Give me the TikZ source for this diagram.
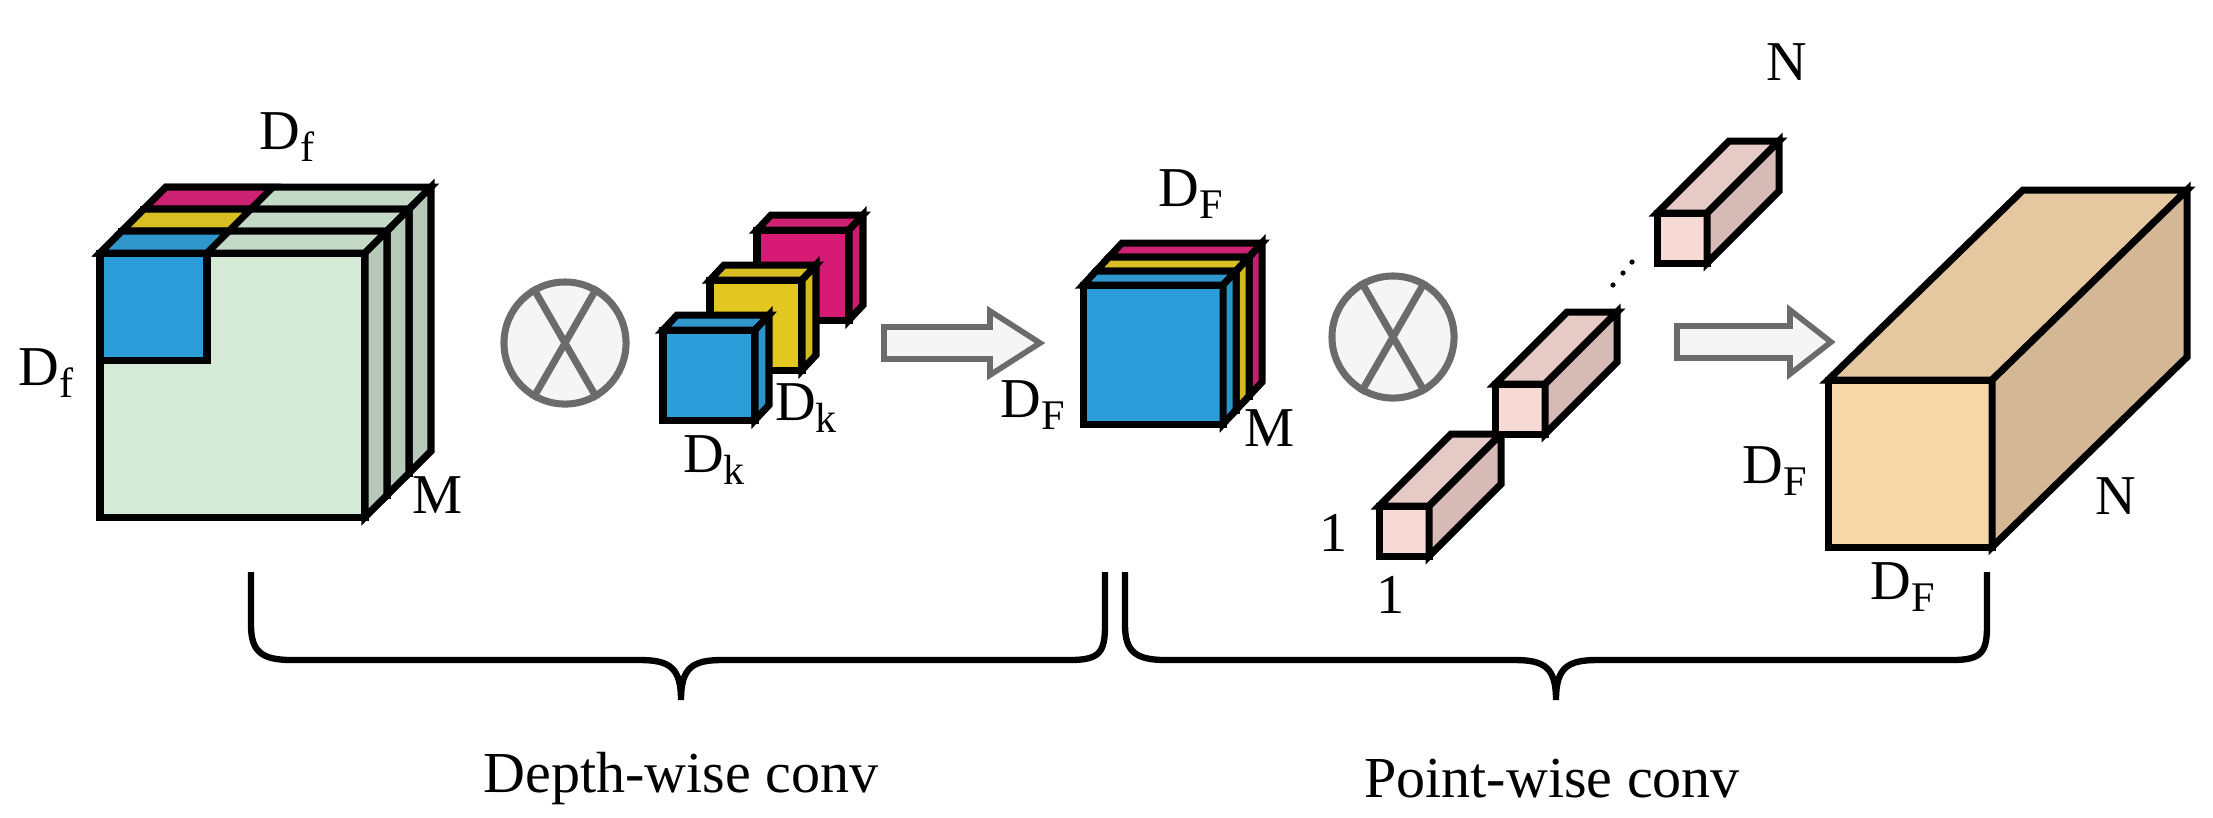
\documentclass[tikz,border=0pt]{standalone}
\usepackage{fontspec}
\setmainfont{Liberation Serif}
\usepackage{tikz}
\usetikzlibrary{positioning}

% face colours: F front, T top, S side
\definecolor{gridF}{HTML}{D4E9D6}
\definecolor{gridT}{HTML}{C5D9C7}
\definecolor{gridS}{HTML}{B6C8B7}
\definecolor{blueF}{HTML}{2B9ED9}
\definecolor{blueT}{HTML}{2F97CC}
\definecolor{blueS}{HTML}{2B96CC}
\definecolor{yellowF}{HTML}{E1C71F}
\definecolor{yellowT}{HTML}{D8BE22}
\definecolor{yellowS}{HTML}{D3B922}
\definecolor{pinkF}{HTML}{D71A73}
\definecolor{pinkT}{HTML}{CC2271}
\definecolor{pinkS}{HTML}{C91E6E}
\definecolor{rodF}{HTML}{F7DAD5}
\definecolor{rodT}{HTML}{E6CAC5}
\definecolor{rodS}{HTML}{D5BAB5}
\definecolor{outF}{HTML}{F7D6A8}
\definecolor{outT}{HTML}{E5C8A0}
\definecolor{outS}{HTML}{D4B895}
\definecolor{opGrey}{HTML}{6B6B6B}
\definecolor{opFill}{HTML}{F5F5F5}

\tikzset{
  box/.style={draw=black, line width=2pt, line join=miter},
  lbl/.style={font=\fontsize{16}{16}\selectfont, inner sep=0pt},
  caption/.style={font=\fontsize{16.5}{18}\selectfont, inner sep=0pt},
  op/.style={circle, draw=opGrey, fill=opFill, line width=2pt, minimum size=1.22cm, inner sep=0pt},
  flow/.style={draw=opGrey, fill=opFill, line width=1.6pt, line join=miter},
  brace/.style={draw=black, line width=1.8pt}
}

% box: top-left x, y, width, height, depth dx, dy, colour prefix
\newcommand{\drawbox}[7]{%
  \filldraw[box, fill=#7F] (#1,#2) rectangle ++(#3,#4);
  \filldraw[box, fill=#7T] (#1,#2) -- ++(#5,#6) -- ++(#3,0) -- ++({-(#5)},{-(#6)}) -- cycle;
  \filldraw[box, fill=#7S] ({#1+#3},#2) -- ++(#5,#6) -- ++(0,#4) -- ++({-(#5)},{-(#6)}) -- cycle;
}
% input slice with coloured patch on its top
\newcommand{\drawslice}[3]{%
  \drawbox{#1}{#2}{265}{264}{22}{-22}{grid}
  \filldraw[box, fill=#3T] (#1,#2) -- ++(22,-22) -- ++(107,0) -- ++(-22,22) -- cycle;
}
\newcommand{\lowsub}[1]{\raisebox{-0.45ex}{\fontsize{12}{12}\selectfont #1}}

\begin{document}
\begin{tikzpicture}[x=0.01cm, y=-0.01cm]
  \useasboundingbox (0,0) rectangle (2213,817);

  % input feature map, M slices
  \drawslice{144}{209}{pink}
  \drawslice{122}{231}{yellow}
  \drawslice{100}{253}{blue}
  \filldraw[box, fill=blueF] (100,253) rectangle (207,360);
  \node[lbl] (inTop) at (287,137) {D\lowsub{f}};
  \node[lbl] (inLeft) at (46,373) {D\lowsub{f}};
  \node[lbl] (inM) at (438,495) {M};

  % first product
  \node[op] (opA) at (565,343) {};
  \draw[opGrey, line width=2pt] (opA.60) -- (opA.240) (opA.120) -- (opA.300);

  % depth-wise kernels
  \drawbox{757}{230}{92}{90}{14}{-15}{pink}
  \drawbox{710}{280}{92}{90}{14}{-15}{yellow}
  \drawbox{663}{330}{92}{90}{14}{-15}{blue}
  \node[lbl] (kRight) at (806,408) {D\lowsub{k}};
  \node[lbl] (kBelow) at (714,460) {D\lowsub{k}};

  % first flow arrow
  \filldraw[flow] (884,327) -- (990,327) -- (990,311) -- (1040,343) -- (990,375) -- (990,359) -- (884,359) -- cycle;

  % depth-wise output
  \drawbox{1109}{257}{140}{139}{13}{-14}{pink}
  \drawbox{1096}{271}{140}{139}{13}{-14}{yellow}
  \drawbox{1083}{285}{140}{139}{13}{-14}{blue}
  \node[lbl] (midTop) at (1191,194) {D\lowsub{F}};
  \node[lbl] (midLeft) at (1033,405) {D\lowsub{F}};
  \node[lbl] (midM) at (1269,428) {M};

  % second product
  \node[op] (opB) at (1393,337) {};
  \draw[opGrey, line width=2pt] (opB.60) -- (opB.240) (opB.120) -- (opB.300);

  % point-wise kernels
  \drawbox{1657}{213}{50}{50}{72}{-72}{rod}
  \drawbox{1379}{506}{50}{50}{72}{-72}{rod}
  \drawbox{1495}{384}{50}{50}{72}{-72}{rod}
  \foreach \px/\py in {1613/285, 1623/273, 1632/262}
    \fill (\px,\py) circle (2.6);
  \node[lbl] (rodLeft) at (1334,533) {1};
  \node[lbl] (rodBelow) at (1391,595) {1};
  \node[lbl] (rodN) at (1787,62) {N};

  % second flow arrow
  \filldraw[flow] (1677,326) -- (1790,326) -- (1790,310) -- (1831,342) -- (1790,374) -- (1790,358) -- (1677,358) -- cycle;

  % output feature map
  \drawbox{1828}{380}{164}{167}{195}{-190}{out}
  \node[lbl] (outLeft) at (1775,471) {D\lowsub{F}};
  \node[lbl] (outN) at (2116,496) {N};
  \node[lbl] (outBelow) at (1903,587) {D\lowsub{F}};

  % braces
  \draw[brace] (251,572) -- (251,625) .. controls (251,652) and (262,660) .. (292,660) -- (640,660)
    .. controls (670,660) and (681,668) .. (681,700) .. controls (681,668) and (692,660) .. (722,660)
    -- (1070,660) .. controls (1100,660) and (1105,652) .. (1105,625) -- (1105,572);
  \draw[brace] (1125,572) -- (1125,625) .. controls (1125,652) and (1136,660) .. (1166,660) -- (1515,660)
    .. controls (1545,660) and (1556,668) .. (1556,700) .. controls (1556,668) and (1567,660) .. (1597,660)
    -- (1952,660) .. controls (1982,660) and (1987,652) .. (1987,625) -- (1987,572);
  \node[caption] (capDepth) at (681,779) {Depth-wise conv};
  \node[caption] (capPoint) at (1552,779) {Point-wise conv};
\end{tikzpicture}
\end{document}
